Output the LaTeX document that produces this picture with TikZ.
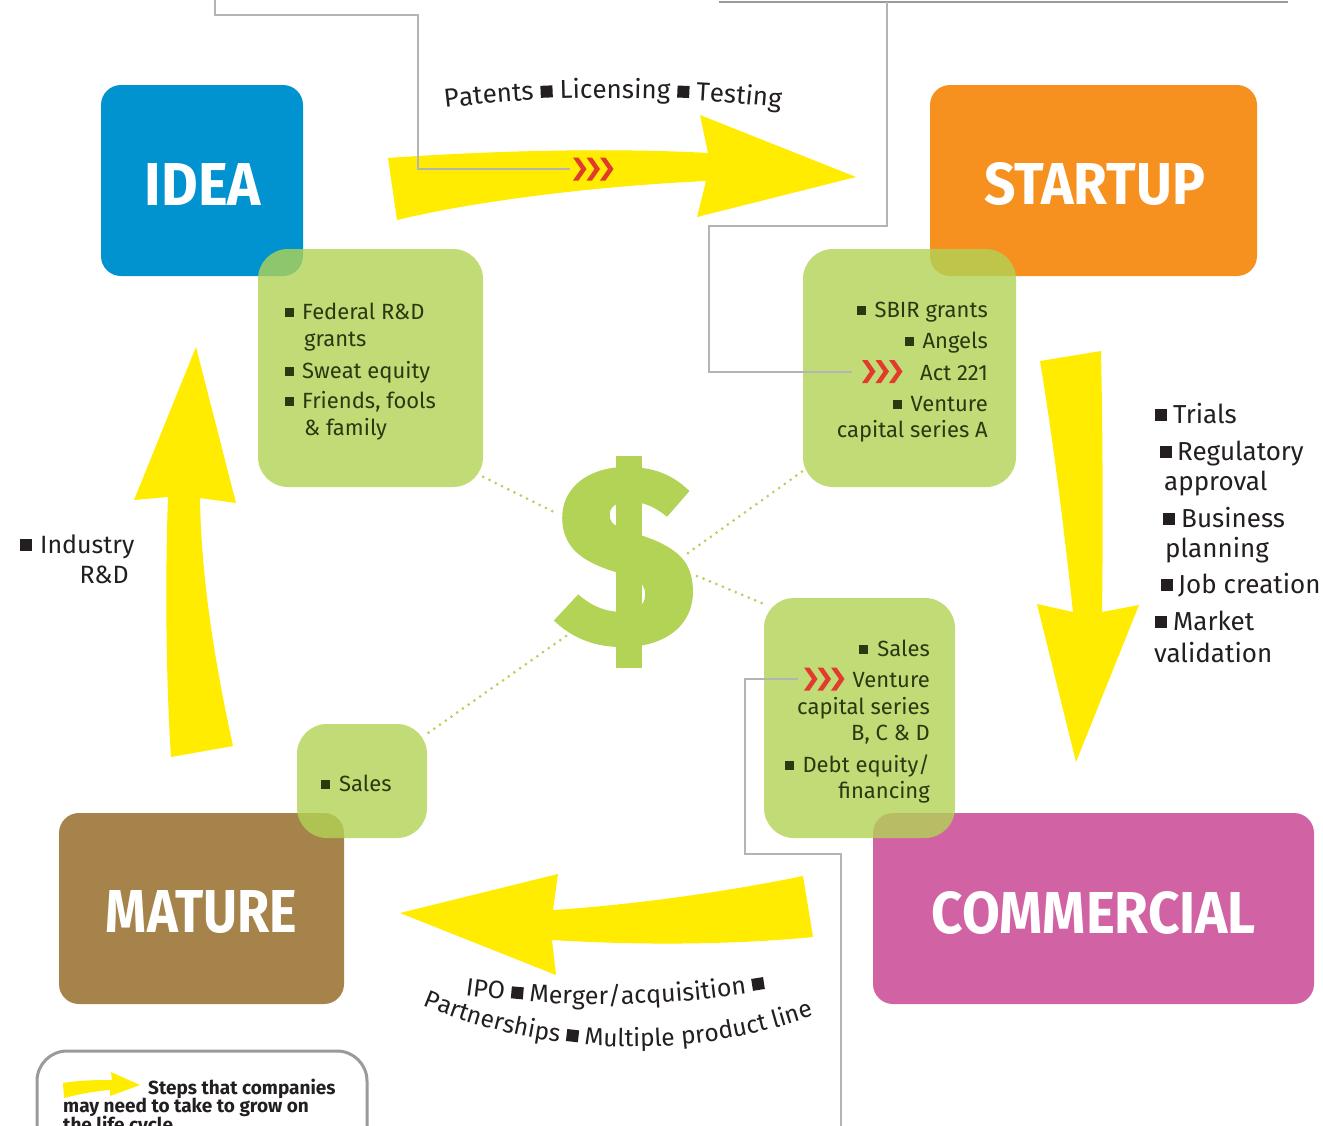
\documentclass[tikz,border=0pt]{standalone}
\usepackage{fontspec}
\setmainfont{Fira Sans}
\usepackage{graphicx}
\usetikzlibrary{decorations.text,calc}

\definecolor{ideablue}{HTML}{0093D0}
\definecolor{startorange}{HTML}{F6901E}
\definecolor{maturebrown}{HTML}{A5834B}
\definecolor{commpink}{HTML}{D163A5}
\definecolor{fundgreen}{HTML}{B2D356}
\definecolor{arrowyellow}{HTML}{FFEC00}
\definecolor{chevred}{HTML}{E23B2E}
\definecolor{fundtext}{HTML}{2C3810}
\definecolor{inktext}{HTML}{231F20}
\definecolor{wiregray}{HTML}{B4B4B4}
\definecolor{framegray}{HTML}{9A9A9C}

\newcommand\fundbullet{\rule[2pt]{9pt}{9pt}}
\newcommand\inkbullet{\rule[2pt]{12pt}{12pt}}

\begin{document}
\begin{tikzpicture}[x=1pt,y=-1pt,
  stagebox/.style={rounded corners=20, inner sep=0},
  stagetitle/.style={text=white, font=\bfseries, inner sep=0},
  fundbox/.style={fill=fundgreen, fill opacity=0.8, rounded corners=30, inner sep=0},
  fundline/.style={text=fundtext, font=\fontsize{22}{26}\selectfont, inner sep=0},
  stepline/.style={text=inktext, font=\fontsize{26}{30}\selectfont, inner sep=0},
  legendline/.style={text=inktext, font=\bfseries\fontsize{19}{22}\selectfont, inner sep=0, anchor=base west},
  wire/.style={draw=wiregray, line width=1.1},
  dots/.style={draw=fundgreen, line width=3, line cap=round, dash pattern=on 0pt off 7pt},
  bigarrow/.style={fill=arrowyellow},
  chevrons/.pic={\foreach \c in {0,13.5,27}{\fill[chevred] (\c,-11.5) -- ++(5.5,0) -- ++(8,11.5) -- ++(-8,11.5) -- ++(-5.5,0) -- ++(8,-11.5) -- cycle;}}
]
\fill[white] (0,0) rectangle (1323,1125);
\useasboundingbox (0,0) rectangle (1323,1125);

% yellow cycle arrows
\fill[bigarrow] (388,158) .. controls (500,150) and (620,148) .. (708,153) -- (700,115) -- (856,177) -- (697,217) -- (706,181) .. controls (600,186) and (480,200) .. (397,220) -- cycle;
\fill[bigarrow] (1040,361) -- (1101,351) .. controls (1103,450) and (1103,540) .. (1102,612) -- (1139,605) -- (1076,762) -- (1037,604) -- (1073,612) .. controls (1063,520) and (1053,440) .. (1040,361) -- cycle;
\fill[bigarrow] (813,937) -- (803,876) .. controls (720,893) and (630,905) .. (553,910) -- (558,874) -- (400,913) -- (556,975) -- (552,940) .. controls (650,946) and (740,944) .. (813,937) -- cycle;
\fill[bigarrow] (171,757) -- (233,746) .. controls (212,650) and (201,570) .. (200,498) -- (236,503) -- (196,347) -- (134,500) -- (168,497) .. controls (165,580) and (166,680) .. (171,757) -- cycle;

% stage boxes
\node[stagebox, fill=ideablue, minimum width=202, minimum height=191] (idea) at (202,180.5) {};
\node[stagebox, fill=startorange, minimum width=327, minimum height=191] (startup) at (1093.5,180.5) {};
\node[stagebox, fill=maturebrown, minimum width=285, minimum height=191] (mature) at (201.5,908.5) {};
\node[stagebox, fill=commpink, minimum width=441, minimum height=191] (commercial) at (1093.5,908.5) {};
\node[stagetitle] (ideaname) at (203,184) {\resizebox{116pt}{42pt}{IDEA}};
\node[stagetitle] (startupname) at (1094.5,184) {\resizebox{221pt}{42pt}{STARTUP}};
\node[stagetitle] (maturename) at (201.5,912.5) {\resizebox{191pt}{42pt}{MATURE}};
\node[stagetitle] (commercialname) at (1094,912.5) {\resizebox{324pt}{42pt}{COMMERCIAL}};

% funding boxes
\node[fundbox, minimum width=225, minimum height=238] (g1) at (370.5,368) {};
\node[fundbox, minimum width=213, minimum height=238] (g2) at (909.5,368) {};
\node[fundbox, minimum width=191, minimum height=240] (g3) at (859.5,718) {};
\node[fundbox, minimum width=130, minimum height=114] (g4) at (362,781) {};

\node[fundline, anchor=base west] (g1a) at (285,319) {\fundbullet\hspace{8pt}Federal R\&D};
\node[fundline, anchor=base west] (g1b) at (304,346) {grants};
\node[fundline, anchor=base west] (g1c) at (285,378) {\fundbullet\hspace{8pt}Sweat equity};
\node[fundline, anchor=base west] (g1d) at (285,408) {\fundbullet\hspace{8pt}Friends, fools};
\node[fundline, anchor=base west] (g1e) at (304,435) {\& family};

\node[fundline, anchor=base east] (g2a) at (988,317) {\fundbullet\hspace{9pt}SBIR grants};
\node[fundline, anchor=base east] (g2b) at (988,348) {\fundbullet\hspace{9pt}Angels};
\node[fundline, anchor=base east] (g2c) at (988,380) {Act 221};
\node[fundline, anchor=base east] (g2d) at (988,411) {\fundbullet\hspace{9pt}Venture};
\node[fundline, anchor=base east] (g2e) at (988,437) {capital series A};

\node[fundline, anchor=base east] (g3a) at (930,656) {\fundbullet\hspace{9pt}Sales};
\node[fundline, anchor=base east] (g3b) at (930,687) {Venture};
\node[fundline, anchor=base east] (g3c) at (930,714) {capital series};
\node[fundline, anchor=base east] (g3d) at (930,740) {B, C \& D};
\node[fundline, anchor=base east] (g3e) at (930,772) {\fundbullet\hspace{9pt}Debt equity/};
\node[fundline, anchor=base east] (g3f) at (930,798) {financing};

\node[fundline, anchor=base west] (g4a) at (321,791) {\fundbullet\hspace{9pt}Sales};

% steps between stages
\node[stepline, anchor=base west] (s1) at (1155,423) {\inkbullet\hspace{6pt}Trials};
\node[stepline, anchor=base west] (s2) at (1160,460) {\inkbullet\hspace{5pt}Regulatory};
\node[stepline, anchor=base west] (s3) at (1164,490) {approval};
\node[stepline, anchor=base west] (s4) at (1163,527) {\inkbullet\hspace{6pt}Business};
\node[stepline, anchor=base west] (s5) at (1165,557) {planning};
\node[stepline, anchor=base west] (s6) at (1161,593) {\inkbullet\hspace{5pt}Job creation};
\node[stepline, anchor=base west] (s7) at (1155,630) {\inkbullet\hspace{6pt}Market};
\node[stepline, anchor=base west] (s8) at (1154,662) {validation};

\node[stepline, anchor=base west, font=\fontsize{25}{29}\selectfont] (ind1) at (20,553) {\inkbullet\hspace{8pt}Industry};
\node[stepline, anchor=base east, font=\fontsize{25}{29}\selectfont] (ind2) at (129,583) {R\&D};

% curved captions
\path[decorate, decoration={text along path, text color=inktext, text align=center,
  text={|\fontsize{26}{30}\selectfont|Patents {\inkbullet} Licensing {\inkbullet} Testing}}]
  plot[domain=0:1, samples=60] ({613+1458*cos(-100+20*\x)}, {1556+1458*sin(-100+20*\x)});
\path[decorate, decoration={text along path, text color=inktext, text align=center,
  text={|\fontsize{25}{29}\selectfont|IPO {\inkbullet} Merger/acquisition {\inkbullet}}}]
  plot[domain=0:1, samples=60] ({601.6+992*cos(100.7-23*\x)}, {12.5+992*sin(100.7-23*\x)});
\path[decorate, decoration={text along path, text color=inktext, text align=center,
  text={|\fontsize{24.5}{28}\selectfont|Partnerships {\inkbullet} Multiple product line}}]
  plot[domain=0:1, samples=80] ({632+544*cos(116-49*\x)}, {503+544*sin(116-49*\x)});

% money at the centre
\node[inner sep=0, text=fundgreen] (dollar) at (626,557) {\resizebox*{140pt}{174pt}{\bfseries\addfontfeature{FakeBold=2.5}S}};
\fill[fundgreen] ($(dollar.center)+(-10,-101)$) rectangle ($(dollar.center)+(16,111)$);
\draw[dots] (g1.-44.6) -- ($(dollar.center)+(-68,-43)$);
\draw[dots] ($(dollar.center)+(62,-4)$) -- (g2.224.1);
\draw[dots] ($(dollar.center)+(71,19)$) -- (g3.130.2);
\draw[dots] ($(dollar.center)+(-60,79)$) -- (g4.36.2);

% leader lines
\coordinate (leadA) at (570,169);
\coordinate (leadB) at (852,372);
\coordinate (leadC) at (798,679);
\draw[wire] (215,-2) |- (418,15) |- (leadA);
\draw[line width=2.2, draw=framegray] (719,1.6) -- (1288,1.6);
\draw[wire] (887,2) |- (709,226) |- (leadB);
\draw[wire] (leadC) -| (745,854) -| (841,1130);

\pic at (573,169) {chevrons};
\pic at (862,371.5) {chevrons};
\pic at (804,679) {chevrons};

% legend
\draw[draw=framegray, line width=3, rounded corners=30] (37,1051) rectangle (367,1200);
\fill[bigarrow] (63,1083) .. controls (80,1080) and (100,1080) .. (112,1080) -- (111,1072) -- (140,1085) -- (110,1096) -- (110,1090) .. controls (95,1091) and (80,1094) .. (64,1098) -- cycle;
\node[legendline] (leg1) at (148,1094) {Steps that companies};
\node[legendline] (leg2) at (63,1112) {may need to take to grow on};
\node[legendline] (leg3) at (63,1131) {the life cycle};
\end{tikzpicture}
\end{document}
